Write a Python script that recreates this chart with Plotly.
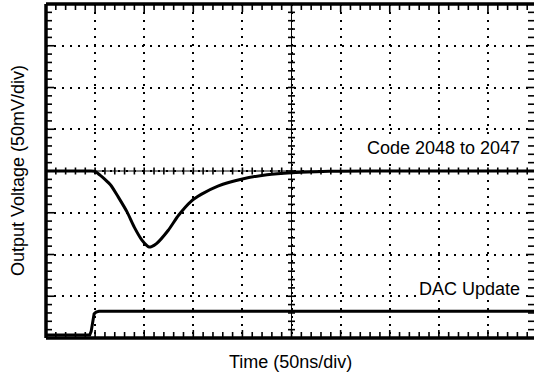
import plotly.graph_objects as go

# Oscilloscope capture: 50 ns/div horizontally, 50 mV/div vertically
t_code = [0, 25, 40, 45, 50, 55, 60, 66, 73.5, 82.5, 90, 97.5, 102.5, 105, 107.5,
          112.5, 124.5, 135, 148, 158, 175, 200, 225, 250, 275, 300, 350, 400, 500]
v_code = [0, 0, 0, 0, -0.5, -5, -10, -17, -31, -49, -67.5, -82.5, -89, -91, -90.5,
          -87, -71, -53, -36, -28, -18, -9.5, -4.5, -2, -0.8, -0.2, 0, 0, 0]

t_dac = [0, 44.5, 46, 47.5, 49, 51, 54, 500]
v_dac = [-196.5, -196.5, -192, -180, -171, -169, -168, -168]

trace_labels = ["Code 2048 to 2047", "DAC Update"]
label_pos = [(484, 27), (484, -141)]
x_title = "Time (50ns/div)"
y_title = "Output Voltage (50mV/div)"

X_DIV, Y_DIV = 50, 50
MINOR = 10
X_MAX = 496.9
X_CENTER = 250
Y_MIN, Y_MAX = -200, 200

W, H = 534, 378
M_L, M_R, M_T, M_B = 46, 0, 4, 40
# size of one pixel in data units, used for tick lengths
PX_X = X_MAX / (W - M_L - M_R)
PX_Y = (Y_MAX - Y_MIN) / (H - M_T - M_B)

FONT = "Arial, Liberation Sans, Helvetica, sans-serif"

fig = go.Figure()
fig.add_trace(go.Scatter(x=t_code, y=v_code, mode="lines",
                         line=dict(color="black", width=3, shape="spline", smoothing=0.7),
                         hoverinfo="skip", showlegend=False))
fig.add_trace(go.Scatter(x=t_dac, y=v_dac, mode="lines",
                         line=dict(color="black", width=3),
                         hoverinfo="skip", showlegend=False))

grid = dict(showgrid=True, gridcolor="black", gridwidth=1.6, griddash="2px,6px",
            ticks="", showticklabels=False, zeroline=False, showline=False)

fig.update_layout(
    width=W, height=H,
    margin=dict(l=M_L, r=M_R, t=M_T, b=M_B),
    plot_bgcolor="white", paper_bgcolor="white",
    font=dict(family=FONT, size=18, color="black"),
    xaxis=dict(range=[0, X_MAX], tickmode="linear", tick0=0, dtick=X_DIV, **grid),
    yaxis=dict(range=[Y_MIN, Y_MAX], tickmode="linear", tick0=0, dtick=Y_DIV, **grid),
)

TICK = dict(type="line", xref="x", yref="y", layer="above",
            line=dict(color="black", width=1.6))

# graticule ticks along the edges and the two centre lines
x_ticks = [MINOR * i for i in range(1, int(X_MAX // MINOR) + 1)]
y_ticks = [Y_MIN + MINOR * i for i in range(1, int((Y_MAX - Y_MIN) // MINOR))]

for xv in x_ticks:
    ln = (8 if xv % X_DIV == 0 else 6) * PX_Y
    fig.add_shape(x0=xv, x1=xv, y0=Y_MIN, y1=Y_MIN + ln, **TICK)
    fig.add_shape(x0=xv, x1=xv, y0=Y_MAX, y1=Y_MAX - ln, **TICK)
    fig.add_shape(x0=xv, x1=xv, y0=-3.5 * PX_Y, y1=3.5 * PX_Y, **TICK)

for yv in y_ticks:
    ln = (8 if yv % Y_DIV == 0 else 6) * PX_X
    fig.add_shape(x0=0, x1=ln, y0=yv, y1=yv, **TICK)
    fig.add_shape(x0=X_MAX, x1=X_MAX - ln, y0=yv, y1=yv, **TICK)
    fig.add_shape(x0=X_CENTER - 3.5 * PX_X, x1=X_CENTER + 3.5 * PX_X, y0=yv, y1=yv, **TICK)

# thin centre lines
fig.add_shape(type="line", xref="paper", yref="y", x0=0, x1=1, y0=0, y1=0,
              layer="above", line=dict(color="black", width=1))
fig.add_shape(type="line", xref="x", yref="paper", x0=X_CENTER, x1=X_CENTER, y0=0, y1=1,
              layer="above", line=dict(color="black", width=1))

# heavy frame: left, top and bottom edges
frame = dict(type="line", xref="paper", yref="paper", layer="above",
             line=dict(color="black", width=3.5))
fig.add_shape(x0=0, x1=0, y0=0, y1=1, **frame)
fig.add_shape(x0=0, x1=1, y0=1, y1=1, **frame)
fig.add_shape(x0=0, x1=1, y0=0, y1=0, **frame)

for text, (x, y) in zip(trace_labels, label_pos):
    fig.add_annotation(x=x, y=y, xref="x", yref="y", text=text, showarrow=False,
                       xanchor="right", yanchor="middle", font=dict(size=18),
                       bgcolor="white", borderpad=0)

fig.add_annotation(x=0.5, y=0, xref="paper", yref="paper", yshift=-24, text=x_title,
                   showarrow=False, xanchor="center", yanchor="middle", font=dict(size=18))
fig.add_annotation(x=0, y=0.5, xref="paper", yref="paper", xshift=-28, text=y_title,
                   textangle=-90, showarrow=False, xanchor="center", yanchor="middle",
                   font=dict(size=18))

fig.write_html("out.html")
